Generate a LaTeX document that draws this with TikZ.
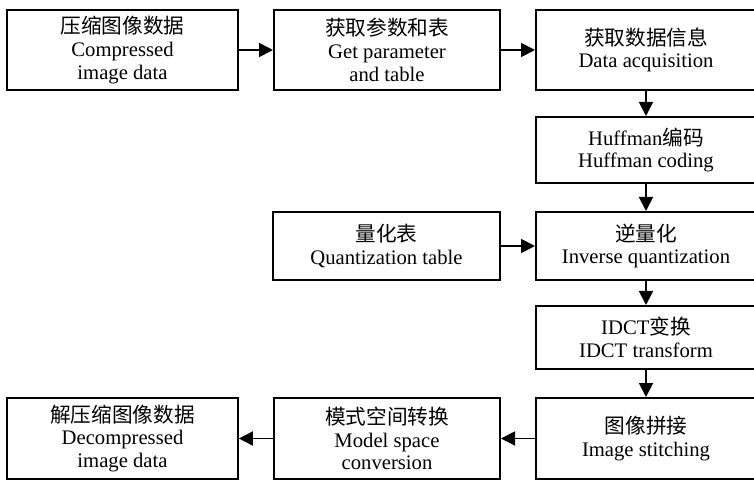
\documentclass[tikz,border=0pt]{standalone}
\usepackage{fontspec}
\setmainfont{Liberation Serif}
\newfontfamily\cjk{Noto Sans CJK SC}
\usetikzlibrary{arrows.meta, positioning}

\begin{document}
\begin{tikzpicture}[x=0.75pt, y=-0.75pt,
                block/.style={draw=black, line width=1.5pt, rectangle, inner sep=0pt, align=center, font=\fontsize{15.5}{17}\selectfont},
                wideblock/.style={block, minimum width=173pt, minimum height=60pt},
                rightblock/.style={block, minimum width=165pt},
                edge/.style={line width=1.4pt, -{Triangle[length=10.5pt, width=10.5pt]}}
            ]
            \clip (0,0) rectangle (754,481);

            % Knoten
            \node[wideblock] (compressed) at (122.5,50) {{\cjk 压缩图像数据}\\Compressed\\image data};
            \node[wideblock, minimum width=169.5pt] (param) at (387,50) {{\cjk 获取参数和表}\\Get parameter\\and table};
            \node[rightblock, minimum height=60pt] (acquire) at (646,50) {{\cjk 获取数据信息}\\Data acquisition};
            \node[rightblock, minimum height=49.5pt] (huffman) at (646,150) {Huffman{\cjk 编码}\\Huffman coding};
            \node[block, minimum width=170pt, minimum height=51pt] (qtable) at (386.5,246) {{\cjk 量化表}\\Quantization table};
            \node[rightblock, minimum height=51pt] (dequant) at (646,246) {{\cjk 逆量化}\\Inverse quantization};
            \node[rightblock, minimum height=47.25pt] (idct) at (646,337.5) {IDCT{\cjk 变换}\\IDCT transform};
            \node[rightblock, minimum height=60.75pt] (stitch) at (646,438.5) {{\cjk 图像拼接}\\Image stitching};
            \node[wideblock, minimum width=169.5pt, minimum height=60.75pt] (colorspace) at (387,438.5) {{\cjk 模式空间转换}\\Model space\\conversion};
            \node[wideblock, minimum height=60.75pt] (decompressed) at (122.5,438.5) {{\cjk 解压缩图像数据}\\Decompressed\\image data};

            % Kanten zwischen Knoten
            \draw[edge] (compressed) -- (param);
            \draw[edge] (param) -- (acquire);
            \draw[edge] (acquire) -- (huffman);
            \draw[edge] (huffman) -- (dequant);
            \draw[edge] (qtable) -- (dequant);
            \draw[edge] (dequant) -- (idct);
            \draw[edge] (idct) -- (stitch);
            \draw[edge] (stitch) -- (colorspace);
            \draw[edge] (colorspace) -- (decompressed);

        \end{tikzpicture}
\end{document}
